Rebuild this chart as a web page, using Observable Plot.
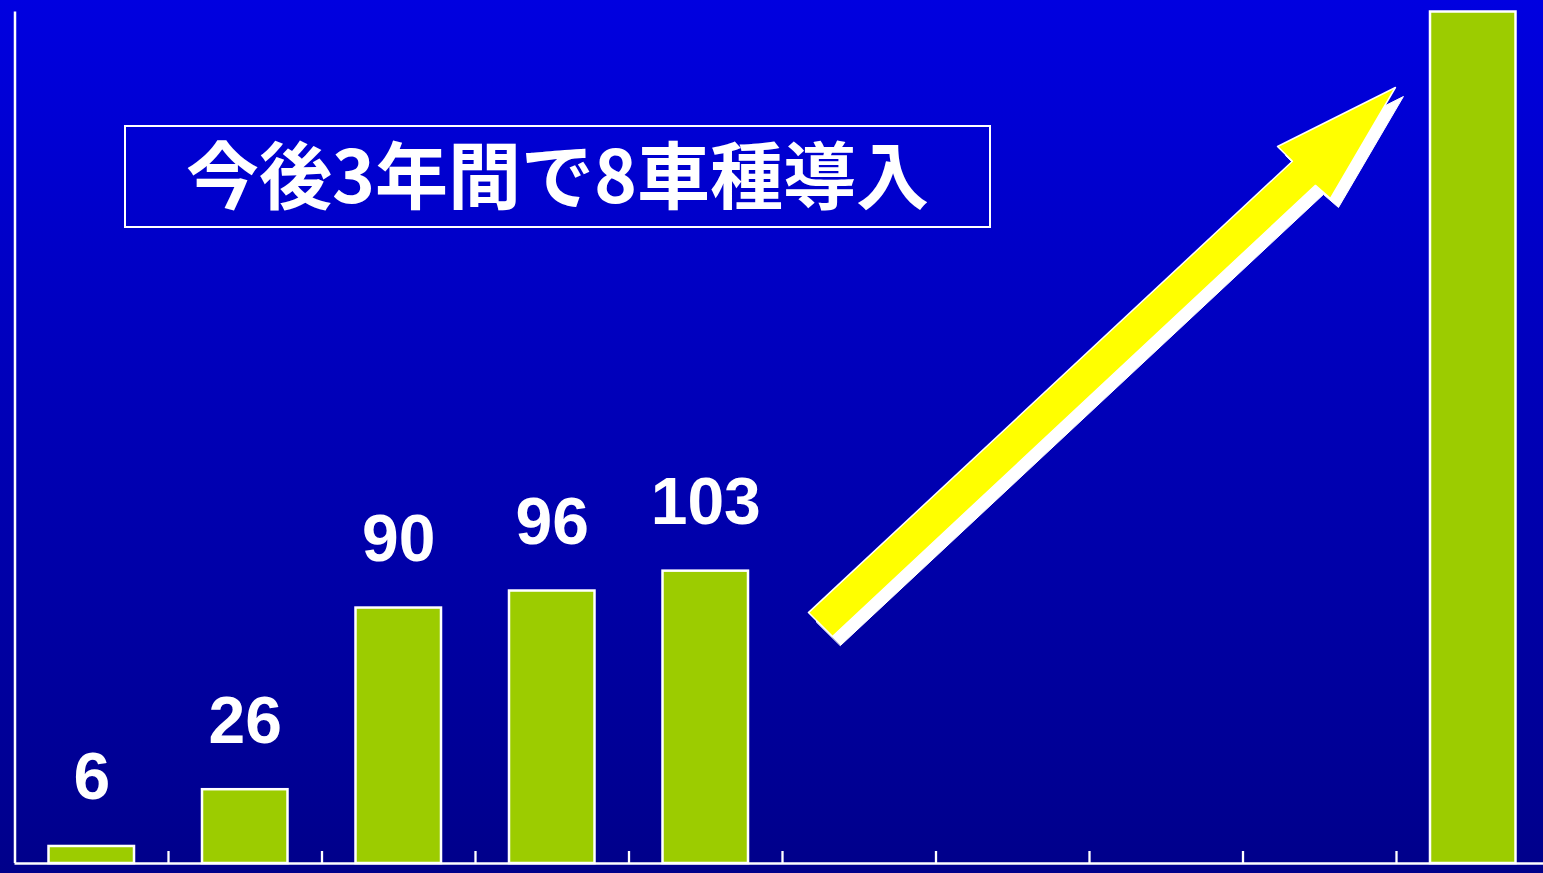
<!DOCTYPE html>
<html><head><meta charset="utf-8">
<script src="https://cdn.jsdelivr.net/npm/d3@7"></script>
<script src="https://cdn.jsdelivr.net/npm/@observablehq/plot@0.6"></script>
<style>
html,body{margin:0;padding:0;background:#000088;}
#wrap{position:relative;width:1543px;height:873px;background:linear-gradient(#0000e0,#00008a);overflow:hidden;}
#wrap svg{position:absolute;left:0;top:0;}
#title{position:absolute;z-index:2;left:124px;top:125px;width:863px;height:89px;padding-bottom:10px;border:2px solid #fff;display:flex;align-items:center;justify-content:center;color:#fff;font-family:"Noto Sans CJK JP";font-weight:700;font-size:73px;line-height:1;}
</style></head><body><div id="wrap"><div id="title">今後3年間で8車種導入</div></div>
<script>
const slots = [0, 1, 2, 3, 4, 5, 6, 7, 8, 9];
const values = [6, 26, 90, 96, 103, null, null, null, null, 300];
const labels = ["6", "26", "90", "96", "103", "", "", "", "", ""];
const tickPositions = [1, 2, 3, 4, 5, 6, 7, 8, 9];
// arrow outline (in chart units: slot position, value)
const arrowX = [5.169, 8.322, 8.225, 8.993, 8.570, 8.472, 5.326];
const arrowY = [88.4, 247.4, 252.6, 273.4, 234.3, 238.9, 80.0];

const data = slots.map((s, i) => ({slot: s, value: values[i], label: labels[i]})).filter(d => d.value != null);
const arrow = arrowX.map((x, i) => ({x, y: arrowY[i]}));

const chart = Plot.plot({
  width: 1543, height: 873,
  marginLeft: 14.5, marginRight: -6.5, marginTop: 11.5, marginBottom: 10,
  x: {domain: [0, 10], axis: null},
  y: {domain: [0, 300], axis: null},
  style: {background: "transparent", overflow: "visible"},
  marks: [
    Plot.rectY(data, {x: "slot", interval: 1, y: "value", insetLeft: 34, insetRight: 34, fill: "#9ccc00", stroke: "white", strokeWidth: 2.5}),
    Plot.ruleY([0], {stroke: "white", strokeWidth: 2.5}),
    Plot.ruleX([0], {stroke: "white", strokeWidth: 2.5}),
    Plot.tickX(tickPositions, {x: d => d, insetTop: 839.5, stroke: "white", strokeWidth: 2.3}),
    Plot.text(data.filter(d => d.label), {x: d => d.slot + 0.5, y: "value", text: "label", fill: "white", fontFamily: "Liberation Sans", fontWeight: "bold", fontSize: 66, lineAnchor: "bottom", dy: -47}),
    Plot.line(arrow, {x: "x", y: "y", curve: "linear-closed", fill: "white", stroke: "white", strokeWidth: 1, dx: 8, dy: 9}),
    Plot.line(arrow, {x: "x", y: "y", curve: "linear-closed", fill: "#ffff00", stroke: "white", strokeWidth: 1.5})
  ]
});
document.getElementById("wrap").insertBefore(chart, document.getElementById("title"));
</script>
</body></html>
